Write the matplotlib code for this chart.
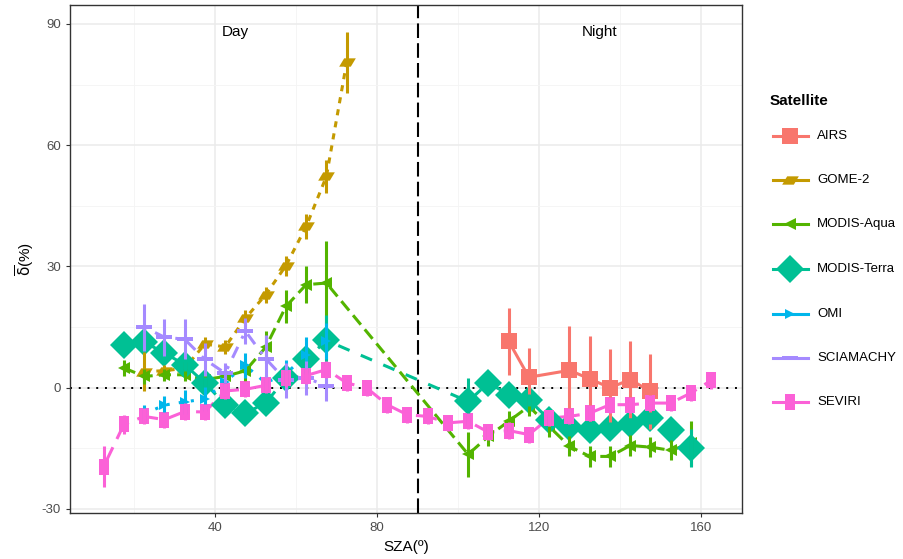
import numpy as np
import matplotlib
matplotlib.use("Agg")
import matplotlib.pyplot as plt
from matplotlib.path import Path
from matplotlib.lines import Line2D

plt.rcParams['font.family'] = ['Liberation Sans', 'DejaVu Sans']
plt.rcParams['axes.unicode_minus'] = False

# ---------------- data ----------------
airs_x = [112.5, 117.5, 127.5, 132.5, 137.5, 142.5, 147.5]
airs_y = [11.5, 2.6, 4.3, 2.2, 0.0, 2.0, -0.9]
airs_e = [8.3, 7.2, 11.0, 10.5, 9.5, 9.5, 9.2]

gome_x = [22.5, 27.5, 32.5, 37.5, 42.5, 47.5, 52.5, 57.5, 62.5, 67.5, 72.5]
gome_y = [4.0, 4.2, 4.8, 10.8, 10.1, 17.2, 23.0, 30.2, 39.9, 52.3, 80.5]
gome_e = [4.8, 1.5, 1.5, 1.8, 1.8, 2.0, 2.0, 2.5, 3.0, 4.0, 7.6]

aqua_x = [17.5, 22.5, 27.5, 32.5, 37.5, 42.5, 47.5, 52.5, 57.5, 62.5, 67.5,
          102.5, 107.5, 112.5, 117.5, 122.5, 127.5, 132.5, 137.5, 142.5, 147.5, 152.5, 157.5]
aqua_y = [4.9, 2.8, 3.2, 3.2, 2.0, 2.8, 4.2, 10.0, 20.1, 25.5, 25.9,
          -16.5, -12.0, -8.3, -4.6, -9.6, -14.5, -17.0, -17.0, -14.3, -14.7, -15.5, -13.8]
aqua_e = [2.0, 1.8, 1.5, 1.5, 1.5, 2.0, 2.5, 4.0, 4.0, 4.5, 10.5,
          5.5, 2.5, 2.5, 2.5, 2.5, 2.5, 2.5, 2.5, 2.5, 2.5, 2.5, 5.5]

terra_x = [17.5, 22.5, 27.5, 32.5, 37.5, 42.5, 47.5, 52.5, 57.5, 62.5, 67.5,
           102.5, 107.5, 112.5, 117.5, 122.5, 127.5, 132.5, 137.5, 142.5, 147.5, 152.5, 157.5]
terra_y = [10.6, 11.3, 8.6, 5.7, 1.2, -4.2, -6.3, -3.8, 2.4, 7.0, 11.7,
           -3.4, 1.2, -1.7, -3.0, -7.9, -9.6, -10.4, -10.0, -9.1, -7.5, -10.4, -14.9]
terra_e = [1.5, 1.5, 1.5, 1.5, 1.5, 1.5, 1.5, 2.5, 2.5, 3.0, 6.2,
           5.8, 1.5, 1.5, 1.5, 1.5, 1.5, 1.5, 1.5, 1.5, 1.5, 1.5, 4.6]

omi_x = [22.5, 27.5, 32.5, 37.5, 42.5, 47.5, 52.5, 57.5, 62.5, 67.5]
omi_y = [-6.5, -4.3, -3.5, -2.8, 1.5, 5.5, 1.2, 3.5, 8.0, 11.5]
omi_e = [2.2, 2.3, 3.0, 3.0, 2.0, 3.2, 2.0, 3.3, 4.5, 4.5]

scia_x = [22.5, 27.5, 32.5, 37.5, 42.5, 47.5, 52.5, 57.5, 62.5, 67.5]
scia_y = [15.0, 12.5, 12.0, 7.0, 3.6, 14.0, 7.2, 1.8, 2.5, 0.4]
scia_e = [5.8, 4.6, 5.0, 4.0, 2.5, 3.2, 5.8, 4.3, 4.2, 3.7]

sev_x = [12.5, 17.5, 22.5, 27.5, 32.5, 37.5, 42.5, 47.5, 52.5, 57.5, 62.5, 67.5, 72.5, 77.5,
         82.5, 87.5, 92.5, 97.5, 102.5, 107.5, 112.5, 117.5, 122.5, 127.5, 132.5, 137.5,
         142.5, 147.5, 152.5, 157.5, 162.5]
sev_y = [-19.5, -9.1, -7.1, -7.9, -5.9, -6.0, -0.8, -0.4, 0.6, 2.3, 3.0, 4.5, 1.2, -0.1,
         -4.2, -6.7, -7.1, -8.7, -8.3, -11.0, -10.6, -11.6, -7.5, -7.1, -6.3, -4.2,
         -4.2, -3.8, -3.8, -1.3, 1.8]
sev_e = [5.0, 2.3, 2.0, 2.0, 2.0, 2.0, 2.0, 2.0, 2.0, 2.0, 2.0, 2.0, 2.0, 2.0,
         2.0, 2.0, 2.0, 2.0, 2.0, 2.0, 2.0, 2.0, 2.0, 2.0, 2.0, 2.0,
         2.0, 2.0, 2.0, 2.0, 2.0]

names = ['AIRS', 'GOME-2', 'MODIS-Aqua', 'MODIS-Terra', 'OMI', 'SCIAMACHY', 'SEVIRI']
colors = ['#F8766D', '#C49A00', '#53B400', '#00C094', '#00B6EB', '#A58AFF', '#FB61D7']
xs = [airs_x, gome_x, aqua_x, terra_x, omi_x, scia_x, sev_x]
ys = [airs_y, gome_y, aqua_y, terra_y, omi_y, scia_y, sev_y]
es = [airs_e, gome_e, aqua_e, terra_e, omi_e, scia_e, sev_e]

# ---------------- styles ----------------
para = Path([(-0.5, -0.25), (0.2, -0.25), (0.5, 0.25), (-0.2, 0.25), (-0.5, -0.25)],
            [Path.MOVETO, Path.LINETO, Path.LINETO, Path.LINETO, Path.CLOSEPOLY])
hbar = Path([(-0.5, -0.13), (0.5, -0.13), (0.5, 0.13), (-0.5, 0.13), (-0.5, -0.13)],
            [Path.MOVETO, Path.LINETO, Path.LINETO, Path.LINETO, Path.CLOSEPOLY])
vrect = Path([(-0.27, -0.5), (0.27, -0.5), (0.27, 0.5), (-0.27, 0.5), (-0.27, -0.5)],
             [Path.MOVETO, Path.LINETO, Path.LINETO, Path.LINETO, Path.CLOSEPOLY])
markers = ['s', para, '<', 'D', '>', hbar, vrect]
msizes = [11, 12, 8, 14, 7, 12, 12]
lstyles = ['-', (0, (2, 2)), (0, (4, 2)), (0, (4, 4)), (0, (1, 3)),
           (0, (1, 3, 4, 3)), (0, (7, 3))]
lw = 2.2

W, H = 904, 559
fig = plt.figure(figsize=(W / 100, H / 100), dpi=100)
ax = fig.add_axes([70 / W, 1 - 513 / H, (742 - 70) / W, (513 - 5) / H])

ax.set_xlim(4.2, 170.1)
ax.set_ylim(-31, 94.7)
ax.set_xticks([40, 80, 120, 160])
ax.set_xticks([20, 60, 100, 140], minor=True)
ax.set_yticks([-30, 0, 30, 60, 90])
ax.set_yticks([-15, 15, 45, 75], minor=True)
ax.grid(which='major', color='#EBEBEB', lw=1.1, zorder=0)
ax.grid(which='minor', color='#F4F4F4', lw=0.6, zorder=0)
ax.set_axisbelow(True)
for s in ax.spines.values():
    s.set_color('#333333')
    s.set_linewidth(1.0)
ax.tick_params(which='major', length=3, width=0.8, color='#333333',
               labelsize=9.5, labelcolor='#4D4D4D')
ax.tick_params(which='minor', length=0)

ax.axhline(0, color='black', lw=1.4, ls=(0, (1, 3.5)), zorder=1)
ax.axvline(90, color='black', lw=1.5, ls=(0, (7, 2.5)), zorder=1)

for i in range(7):
    ax.plot(xs[i], ys[i], color=colors[i], lw=lw, ls=lstyles[i],
            dash_capstyle='butt', zorder=2)
for i in range(7):
    ax.plot(xs[i], ys[i], ls='none', marker=markers[i], ms=msizes[i],
            color=colors[i], mec=colors[i], mew=0, zorder=3)
for i in range(7):
    ax.errorbar(xs[i], ys[i], yerr=es[i], fmt='none', ecolor=colors[i],
                elinewidth=2.2, capsize=0, zorder=4)

ax.text(45, 88, 'Day', ha='center', va='center', fontsize=11)
ax.text(135, 88, 'Night', ha='center', va='center', fontsize=11)

ax.set_xlabel('SZA(º)', fontsize=11, labelpad=4)
ax.set_ylabel(r'$\overline{\mathrm{\delta}}$(%)', fontsize=11, labelpad=4)

# ---------------- manual legend ----------------
fig.text(770 / W, 1 - 101 / H, 'Satellite', fontsize=11, fontweight='bold',
         ha='left', va='center')
key_y = [136, 180, 224, 269, 314, 358, 402]
for i in range(7):
    yy = 1 - key_y[i] / H
    fig.add_artist(Line2D([773 / W, 808 / W], [yy, yy], color=colors[i], lw=lw,
                          transform=fig.transFigure))
    fig.add_artist(Line2D([790.5 / W], [yy], ls='none', marker=markers[i], ms=msizes[i],
                          color=colors[i], mew=0, transform=fig.transFigure))
    fig.text(817 / W, yy, names[i], fontsize=9.5, ha='left', va='center')

fig.savefig('out.png', dpi=100)
